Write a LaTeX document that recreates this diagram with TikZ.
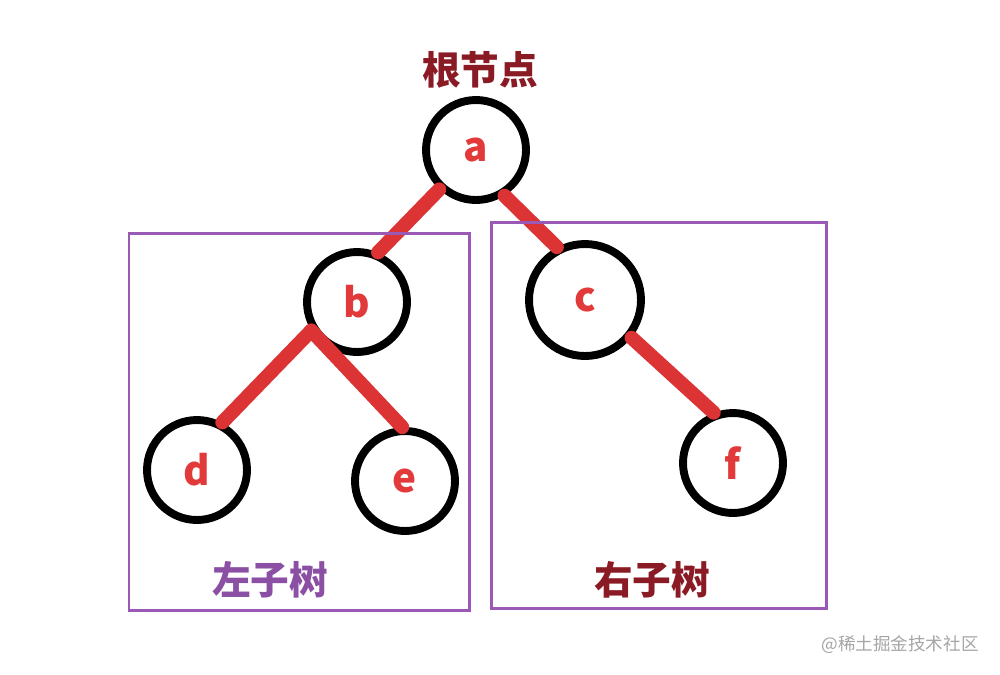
\documentclass[tikz,border=0pt]{standalone}
\usepackage{fontspec}
\newfontfamily\cjk{Noto Sans CJK SC}
\definecolor{edgered}{RGB}{220,52,52}
\definecolor{letterred}{RGB}{226,58,58}
\definecolor{rootred}{RGB}{138,26,36}
\definecolor{boxpurple}{RGB}{155,89,182}
\definecolor{markgray}{RGB}{165,165,165}
\begin{document}
\begin{tikzpicture}[
  x=0.02cm, y=-0.02cm,
  treenode/.style={draw=black, circle, line width=4.5pt, minimum size=2cm, inner sep=0pt,
    text=letterred, font=\cjk\bfseries\fontsize{23}{23}\selectfont},
  branch/.style={draw=edgered, line width=8pt, line cap=round},
  subtree/.style={draw=boxpurple, line width=1.7pt},
  caption/.style={font=\cjk\bfseries\fontsize{22}{22}\selectfont}
]
\useasboundingbox (0,0) rectangle (1000,674);

\node[treenode] (a) at (476,150) {a};
\node[treenode] (b) at (357,302) {b};
\node[treenode, minimum size=2.24cm] (c) at (585,300) {c};
\node[treenode] (d) at (197,470) {d};
\node[treenode] (e) at (405,481) {e};
\node[treenode] (f) at (733,463) {f};

\draw[branch] (a.227) -- (b.67);
\draw[branch] (a.302) -- (c.118);
\draw[branch] (b.212) -- (d.62);
\draw[branch] (b.212) -- (e.93);
\draw[branch] (c.321) -- (f.111);

\draw[subtree] (129,233) rectangle (469,610);
\draw[subtree] (491,222) rectangle (826,608);

\node[caption, text=rootred] (root) at (480,70) {根节点};
\node[caption, text=boxpurple!90!black] (left) at (270,580) {左子树};
\node[caption, text=rootred] (right) at (652,580) {右子树};
\node[font=\cjk\fontsize{10}{10}\selectfont, text=markgray] (mark) at (900,645) {@稀土掘金技术社区};
\end{tikzpicture}
\end{document}
